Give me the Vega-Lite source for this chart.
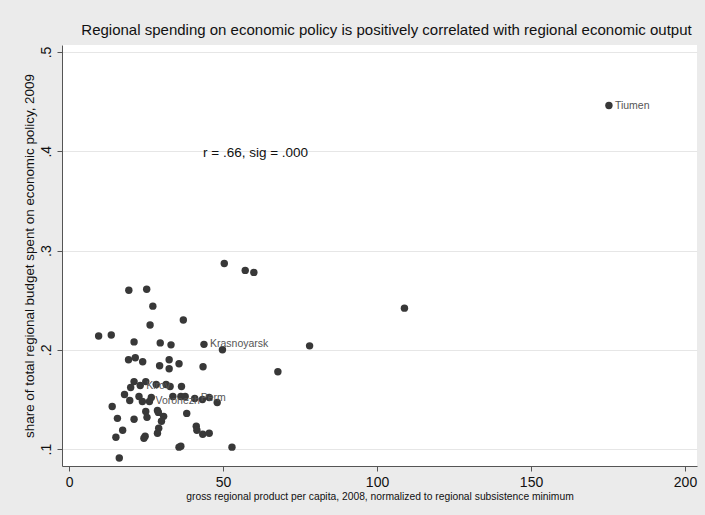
{
  "$schema": "https://vega.github.io/schema/vega-lite/v6.json",
  "width": 635,
  "height": 421,
  "autosize": {"type": "none"},
  "padding": {"left": 62, "top": 45, "right": 8, "bottom": 49},
  "background": "#ebebeb",
  "config": {
    "font": "Liberation Sans",
    "view": {"fill": "white", "stroke": null},
    "axis": {"domainColor": "#555", "tickColor": "#555", "labelColor": "#111", "titleColor": "#111", "titleFontWeight": "normal", "labelFont": "Liberation Sans", "titleFont": "Liberation Sans"}
  },
  "title": {"text": "Regional spending on economic policy is positively correlated with regional economic output", "fontSize": 15, "fontWeight": "normal", "font": "Liberation Sans", "color": "#111", "anchor": "middle", "dx": 7, "offset": 7},
  "data": {"values": [
    {"gdp": 50.4, "share": 0.287, "region": ""},
    {"gdp": 57.2, "share": 0.280, "region": ""},
    {"gdp": 60.0, "share": 0.278, "region": ""},
    {"gdp": 19.4, "share": 0.260, "region": ""},
    {"gdp": 25.2, "share": 0.261, "region": ""},
    {"gdp": 27.2, "share": 0.244, "region": ""},
    {"gdp": 37.1, "share": 0.230, "region": ""},
    {"gdp": 26.3, "share": 0.225, "region": ""},
    {"gdp": 9.6, "share": 0.214, "region": ""},
    {"gdp": 13.7, "share": 0.215, "region": ""},
    {"gdp": 21.1, "share": 0.208, "region": ""},
    {"gdp": 29.6, "share": 0.207, "region": ""},
    {"gdp": 33.1, "share": 0.205, "region": ""},
    {"gdp": 43.8, "share": 0.2055, "region": "Krasnoyarsk"},
    {"gdp": 49.8, "share": 0.200, "region": ""},
    {"gdp": 19.3, "share": 0.190, "region": ""},
    {"gdp": 21.5, "share": 0.192, "region": ""},
    {"gdp": 23.9, "share": 0.188, "region": ""},
    {"gdp": 32.5, "share": 0.190, "region": ""},
    {"gdp": 29.4, "share": 0.184, "region": ""},
    {"gdp": 32.5, "share": 0.181, "region": ""},
    {"gdp": 35.7, "share": 0.186, "region": ""},
    {"gdp": 43.5, "share": 0.183, "region": ""},
    {"gdp": 21.1, "share": 0.168, "region": ""},
    {"gdp": 20.0, "share": 0.162, "region": ""},
    {"gdp": 24.9, "share": 0.168, "region": ""},
    {"gdp": 23.1, "share": 0.164, "region": "Kirov"},
    {"gdp": 28.3, "share": 0.165, "region": ""},
    {"gdp": 31.5, "share": 0.165, "region": ""},
    {"gdp": 32.8, "share": 0.163, "region": ""},
    {"gdp": 36.5, "share": 0.163, "region": ""},
    {"gdp": 18.0, "share": 0.155, "region": ""},
    {"gdp": 19.7, "share": 0.149, "region": ""},
    {"gdp": 22.7, "share": 0.153, "region": ""},
    {"gdp": 23.8, "share": 0.148, "region": ""},
    {"gdp": 26.7, "share": 0.152, "region": ""},
    {"gdp": 26.1, "share": 0.148, "region": "Voronezh"},
    {"gdp": 33.7, "share": 0.153, "region": ""},
    {"gdp": 36.3, "share": 0.153, "region": ""},
    {"gdp": 37.7, "share": 0.153, "region": ""},
    {"gdp": 40.8, "share": 0.151, "region": "Perm"},
    {"gdp": 43.3, "share": 0.150, "region": ""},
    {"gdp": 45.5, "share": 0.152, "region": ""},
    {"gdp": 48.1, "share": 0.147, "region": ""},
    {"gdp": 14.0, "share": 0.143, "region": ""},
    {"gdp": 24.9, "share": 0.138, "region": ""},
    {"gdp": 28.7, "share": 0.139, "region": ""},
    {"gdp": 29.0, "share": 0.137, "region": ""},
    {"gdp": 38.2, "share": 0.136, "region": ""},
    {"gdp": 15.7, "share": 0.131, "region": ""},
    {"gdp": 21.1, "share": 0.130, "region": ""},
    {"gdp": 25.3, "share": 0.132, "region": ""},
    {"gdp": 30.7, "share": 0.133, "region": ""},
    {"gdp": 30.0, "share": 0.128, "region": ""},
    {"gdp": 41.3, "share": 0.123, "region": ""},
    {"gdp": 41.5, "share": 0.119, "region": ""},
    {"gdp": 43.4, "share": 0.115, "region": ""},
    {"gdp": 45.5, "share": 0.116, "region": ""},
    {"gdp": 17.4, "share": 0.119, "region": ""},
    {"gdp": 15.2, "share": 0.112, "region": ""},
    {"gdp": 24.7, "share": 0.113, "region": ""},
    {"gdp": 24.3, "share": 0.111, "region": ""},
    {"gdp": 29.1, "share": 0.121, "region": ""},
    {"gdp": 28.7, "share": 0.116, "region": ""},
    {"gdp": 35.7, "share": 0.102, "region": ""},
    {"gdp": 36.3, "share": 0.103, "region": ""},
    {"gdp": 52.9, "share": 0.102, "region": ""},
    {"gdp": 16.3, "share": 0.091, "region": ""},
    {"gdp": 78.1, "share": 0.204, "region": ""},
    {"gdp": 67.8, "share": 0.178, "region": ""},
    {"gdp": 108.9, "share": 0.242, "region": ""},
    {"gdp": 175.3, "share": 0.446, "region": "Tiumen"}
  ]},
  "layer": [
    {
      "mark": {"type": "point", "filled": true, "color": "#383838", "opacity": 1, "size": 55},
      "encoding": {
        "x": {"field": "gdp", "type": "quantitative", "scale": {"domain": [-2.3, 203.9], "nice": false, "zero": false},
          "axis": {"values": [0, 50, 100, 150, 200], "grid": false, "title": "gross regional product per capita, 2008, normalized to regional subsistence minimum", "titleFontSize": 10.3, "titlePadding": 2, "labelFontSize": 14, "tickSize": 5, "labelPadding": 4, "labelFlush": false}},
        "y": {"field": "share", "type": "quantitative", "scale": {"domain": [0.083, 0.507], "nice": false, "zero": false},
          "axis": {"values": [0.1, 0.2, 0.3, 0.4, 0.5], "grid": true, "gridColor": "#e6e6e6", "gridWidth": 1, "labelExpr": "replace(format(datum.value, '.1f'), '0.', '.')", "labelAngle": -90, "labelAlign": "center", "labelBaseline": "bottom", "labelFontSize": 14, "tickSize": 5, "labelPadding": 4, "labelFlush": false, "title": "share of total regional budget spent on economic policy, 2009", "titleFontSize": 13.4, "titlePadding": 3}}
      }
    },
    {
      "transform": [{"filter": "datum.region != ''"}],
      "mark": {"type": "text", "align": "left", "baseline": "middle", "dx": 6, "fontSize": 10.5, "color": "#555"},
      "encoding": {
        "x": {"field": "gdp", "type": "quantitative"},
        "y": {"field": "share", "type": "quantitative"},
        "text": {"field": "region"}
      }
    },
    {
      "data": {"values": [{"gdp": 43.5, "share": 0.398, "note": "r = .66, sig = .000"}]},
      "mark": {"type": "text", "align": "left", "baseline": "middle", "fontSize": 13.5, "color": "#111"},
      "encoding": {
        "x": {"field": "gdp", "type": "quantitative"},
        "y": {"field": "share", "type": "quantitative"},
        "text": {"field": "note"}
      }
    }
  ]
}
